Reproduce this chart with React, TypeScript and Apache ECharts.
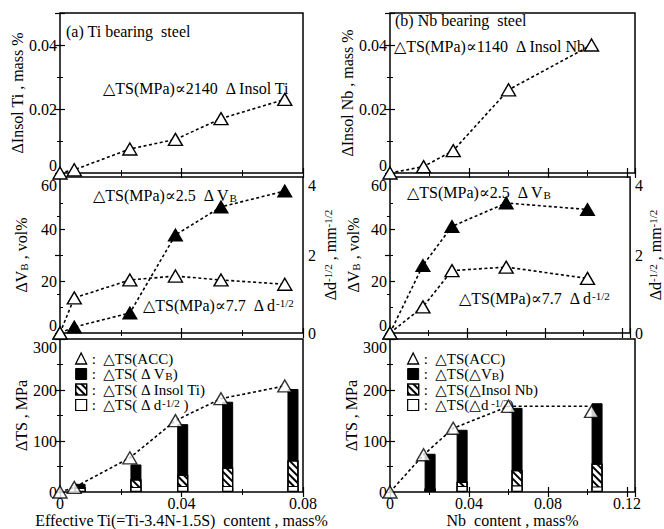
import React, { useEffect, useRef } from 'react';
import * as echarts from 'echarts';

const FONT = '"Liberation Serif", "DejaVu Serif", serif';
const BLACK = '#000';

// ---- (a) Ti bearing steel ----
const TI_X = [0, 0.0047, 0.023, 0.038, 0.053, 0.074];
const TI_INSOL = [0, 0.001, 0.0075, 0.0105, 0.017, 0.023];
const TI_VB = [0, 2.3, 7.7, 37.7, 48.5, 54.6];
const TI_D = [0, 0.9, 1.36, 1.46, 1.36, 1.25];
const TI_ACC = [0, 9, 67, 140, 183, 208];
const TI_ACC_LINE_X = [0, 0.0047, 0.023, 0.038, 0.053, 0.074];
const TI_ACC_LINE = [0, 9, 67, 140, 183, 208];
const TI_BAR_X = [0.0066, 0.025, 0.0404, 0.0552, 0.0767];
const TI_BAR_D = [8, 10, 12, 12, 12];
const TI_BAR_INSOL = [2, 15, 22, 36, 50];
const TI_BAR_VB = [6, 29, 99, 129, 140];

// ---- (b) Nb bearing steel ----
const NB_X = [0, 0.017, 0.032, 0.06, 0.102];
const NB_INSOL = [0, 0.002, 0.007, 0.026, 0.04];
const NB_VB = [0, 26, 41, 50, 47.5];
const NB_D = [0, 0.67, 1.6, 1.69, 1.4];
const NB_ACC = [0, 73, 125, 168, 158];
const NB_ACC_LINE_X = [0, 0.017, 0.032, 0.06, 0.1];
const NB_ACC_LINE = [0, 73, 125, 168, 168];
const NB_BAR_X = [0.0203, 0.0365, 0.0643, 0.1048];
const NB_BAR_D = [5, 12, 13, 11];
const NB_BAR_INSOL = [2, 8, 30, 45];
const NB_BAR_VB = [68, 102, 122, 118];

// axis ranges [min, max, interval]
const TI_X_RANGE = [0, 0.08, 0.04];
const NB_X_RANGE = [0, 0.124, 0.04];
const INSOL_RANGE = [0, 0.05, 0.02];
const VB_RANGE = [0, 60, 20];
const D_RANGE = [0, 4, 2];
const TS_RANGE = [0, 300, 100];

const pts = (xs: number[], ys: number[]) => xs.map((x, i) => [x, ys[i]]);
const add = (...arrs: number[][]) => arrs[0].map((_, i) => arrs.reduce((s, a) => s + a[i], 0));

const RICH = {
  b: { fontSize: 11, verticalAlign: 'bottom', fontFamily: FONT, color: BLACK },
  s: { fontSize: 11, verticalAlign: 'top', fontFamily: FONT, color: BLACK },
};

const COLS = [
  { left: 60, width: 243 },
  { left: 390, width: 245 },
];
const ROWS = [
  { top: 13, height: 160 },
  { top: 177, height: 156 },
  { top: 339, height: 156 },
];

const tick = { show: true, inside: true, length: 5, lineStyle: { color: BLACK, width: 1.2 } };
const minor = { show: true, splitNumber: 2, length: 3, lineStyle: { color: BLACK, width: 1 } };
const nameStyle = { fontFamily: FONT, fontSize: 16, color: BLACK, rich: RICH };

function isMult(range: number[]) {
  const r = range[1] / range[2];
  return Math.abs(r - Math.round(r)) < 1e-6;
}

function xAx(grid: number, range: number[], labels: boolean, position: string, name?: string) {
  return {
    type: 'value',
    gridIndex: grid,
    position,
    min: range[0],
    max: range[1],
    interval: range[2],
    axisLine: { show: false },
    axisTick: tick,
    minorTick: minor,
    splitLine: { show: false },
    axisLabel: {
      show: labels,
      fontFamily: FONT,
      fontSize: 16,
      color: BLACK,
      margin: 3,
      showMaxLabel: isMult(range),
    },
    name: name || '',
    nameLocation: 'middle',
    nameGap: 20,
    nameTextStyle: nameStyle,
  };
}

function yAx(
  grid: number,
  range: number[],
  labels: boolean,
  position: string,
  name?: string,
  nameGap = 31,
  vMin = 'middle',
  vMax = 'middle'
) {
  return {
    type: 'value',
    gridIndex: grid,
    position,
    min: range[0],
    max: range[1],
    interval: range[2],
    axisLine: { show: false },
    axisTick: tick,
    minorTick: minor,
    splitLine: { show: false },
    axisLabel: {
      show: labels,
      fontFamily: FONT,
      fontSize: 16,
      color: BLACK,
      margin: position === 'left' ? 3 : 5,
      showMaxLabel: isMult(range),
      verticalAlignMinLabel: vMin,
      verticalAlignMaxLabel: vMax,
    },
    name: name || '',
    nameLocation: 'middle',
    nameRotate: 90,
    nameGap,
    nameTextStyle: nameStyle,
  };
}

const dotted = { color: BLACK, width: 1.6, type: [3, 2.5] };
const openTri = { color: '#fff', borderColor: BLACK, borderWidth: 1.4 };
const fillTri = { color: BLACK, borderColor: BLACK, borderWidth: 1.2 };
const hatch = {
  symbol: 'rect',
  symbolSize: 1,
  color: BLACK,
  backgroundColor: '#fff',
  dashArrayX: [1, 0],
  dashArrayY: [1.5, 2.5],
  rotation: Math.PI / 4,
};

function lineSeries(name: string, xi: number, yi: number, data: number[][], open: boolean, z = 3) {
  return {
    type: 'line',
    name,
    xAxisIndex: xi,
    yAxisIndex: yi,
    data,
    symbol: 'triangle',
    symbolSize: [14, 12],
    showAllSymbol: true,
    itemStyle: open ? openTri : fillTri,
    lineStyle: dotted,
    z,
  };
}

// bars overlap at the same x; each drawn from 0 to its cumulative top, inner parts drawn above
function barSeries(name: string, xi: number, yi: number, data: number[][], kind: string, z: number) {
  const base: any = {
    type: 'bar',
    name,
    xAxisIndex: xi,
    yAxisIndex: yi,
    data,
    barWidth: 11,
    barGap: '-100%',
    z,
  };
  if (kind === 'vb') base.itemStyle = { color: BLACK, borderColor: BLACK, borderWidth: 1 };
  if (kind === 'd') base.itemStyle = { color: '#fff', borderColor: BLACK, borderWidth: 1.2 };
  if (kind === 'insol') base.itemStyle = { color: '#fff', borderColor: BLACK, borderWidth: 1.2, decal: hatch };
  return base;
}

function buildOption() {
  const grids: any[] = [];
  COLS.forEach((c) =>
    ROWS.forEach((r) =>
      grids.push({
        left: c.left,
        width: c.width,
        top: r.top,
        height: r.height,
        show: true,
        borderColor: BLACK,
        borderWidth: 1.5,
        backgroundColor: 'transparent',
      })
    )
  );

  const xAxes: any[] = [];
  const yAxes: any[] = [];
  const xNames = ['Effective Ti(=Ti-3.4N-1.5S)  content , mass%', 'Nb  content , mass%'];
  [TI_X_RANGE, NB_X_RANGE].forEach((xr, ci) => {
    for (let ri = 0; ri < 3; ri++) {
      const g = ci * 3 + ri;
      xAxes.push(xAx(g, xr, ri === 2, 'bottom', ri === 2 ? xNames[ci] : ''));
      xAxes.push(xAx(g, xr, false, 'top'));
    }
  });
  const insolNames = ['ΔInsol Ti , mass %', 'ΔInsol Nb , mass %'];
  [0, 1].forEach((ci) => {
    const g0 = ci * 3;
    const lg = ci === 0 ? 31 : 29;
    yAxes.push(yAx(g0, INSOL_RANGE, true, 'left', insolNames[ci], lg, 'bottom', 'middle'));
    yAxes.push(yAx(g0, INSOL_RANGE, false, 'right'));
    yAxes.push(yAx(g0 + 1, VB_RANGE, true, 'left', 'ΔV{b|B} , vol%', lg, 'bottom', 'top'));
    yAxes.push(
      yAx(g0 + 1, D_RANGE, true, 'right', 'Δd{s|-1/2} , mm{s|-1/2}', ci === 0 ? 19 : 16, 'middle', 'top')
    );
    yAxes.push(yAx(g0 + 2, TS_RANGE, true, 'left', 'ΔTS , MPa', lg, 'middle', 'top'));
    yAxes.push(yAx(g0 + 2, TS_RANGE, false, 'right'));
  });

  const series: any[] = [
    // Ti
    lineSeries('ti_insol_pts', 0, 0, pts(TI_X, TI_INSOL), true),
    lineSeries('ti_vb_pts', 2, 2, pts(TI_X, TI_VB), false, 3),
    lineSeries('ti_d_pts', 2, 3, pts(TI_X, TI_D), true, 4),
    barSeries('ti_vb', 4, 4, pts(TI_BAR_X, add(TI_BAR_D, TI_BAR_INSOL, TI_BAR_VB)), 'vb', 1),
    barSeries('ti_insol', 4, 4, pts(TI_BAR_X, add(TI_BAR_D, TI_BAR_INSOL)), 'insol', 2),
    barSeries('ti_d', 4, 4, pts(TI_BAR_X, TI_BAR_D), 'd', 3),
    {
      type: 'line',
      name: 'ti_acc_line',
      xAxisIndex: 4,
      yAxisIndex: 4,
      data: pts(TI_ACC_LINE_X, TI_ACC_LINE),
      showSymbol: false,
      lineStyle: dotted,
      z: 4,
    },
    {
      type: 'scatter',
      name: 'ti_acc',
      xAxisIndex: 4,
      yAxisIndex: 4,
      data: pts(TI_X, TI_ACC),
      symbol: 'triangle',
      symbolSize: [14, 12],
      itemStyle: openTri,
      z: 5,
    },
    // Nb
    lineSeries('nb_insol_pts', 6, 6, pts(NB_X, NB_INSOL), true),
    lineSeries('nb_vb_pts', 8, 8, pts(NB_X, NB_VB), false, 3),
    lineSeries('nb_d_pts', 8, 9, pts(NB_X, NB_D), true, 4),
    barSeries('nb_vb', 10, 10, pts(NB_BAR_X, add(NB_BAR_D, NB_BAR_INSOL, NB_BAR_VB)), 'vb', 1),
    barSeries('nb_insol', 10, 10, pts(NB_BAR_X, add(NB_BAR_D, NB_BAR_INSOL)), 'insol', 2),
    barSeries('nb_d', 10, 10, pts(NB_BAR_X, NB_BAR_D), 'd', 3),
    {
      type: 'line',
      name: 'nb_acc_line',
      xAxisIndex: 10,
      yAxisIndex: 10,
      data: pts(NB_ACC_LINE_X, NB_ACC_LINE),
      showSymbol: false,
      lineStyle: dotted,
      z: 4,
    },
    {
      type: 'scatter',
      name: 'nb_acc',
      xAxisIndex: 10,
      yAxisIndex: 10,
      data: pts(NB_X, NB_ACC),
      symbol: 'triangle',
      symbolSize: [14, 12],
      itemStyle: openTri,
      z: 5,
    },
  ];

  const LEG_TEXT: Record<string, string> = {
    ti_acc: ':  △TS(ACC)',
    ti_vb: ':  △TS( Δ V{b|B})',
    ti_insol: ':  △TS( Δ Insol Ti)',
    ti_d: ':  △TS( Δ d{s|-1/2} )',
    nb_acc: ':  △TS(ACC)',
    nb_vb: ':  △TS(△V{b|B})',
    nb_insol: ':  △TS(△Insol Nb)',
    nb_d: ':  △TS(△d{s| -1/2})',
  };
  const legend = (prefix: string, left: number) => ({
    orient: 'vertical',
    left,
    top: 346,
    itemWidth: 11,
    itemHeight: 11,
    itemGap: 0.5,
    selectedMode: false,
    data: [
      {
        name: prefix + '_acc',
        icon: 'triangle',
        itemStyle: { color: '#fff', borderColor: BLACK, borderWidth: 1.3, opacity: 1 },
      },
      { name: prefix + '_vb', icon: 'rect', itemStyle: { color: BLACK, borderColor: BLACK, borderWidth: 1 } },
      {
        name: prefix + '_insol',
        icon: 'rect',
        itemStyle: { color: '#fff', borderColor: BLACK, borderWidth: 1.2, decal: hatch },
      },
      { name: prefix + '_d', icon: 'rect', itemStyle: { color: '#fff', borderColor: BLACK, borderWidth: 1.2 } },
    ],
    formatter: (n: string) => LEG_TEXT[n],
    textStyle: { fontFamily: FONT, fontSize: 15, lineHeight: 15, color: BLACK, rich: RICH },
  });

  const txt = (x: number, y: number, text: string, size = 16) => ({
    type: 'text',
    x,
    y,
    z: 10,
    style: {
      text,
      fontFamily: FONT,
      fontSize: size,
      fill: BLACK,
      align: 'left',
      verticalAlign: 'middle',
      rich: RICH,
    },
  });

  return {
    animation: false,
    backgroundColor: '#fff',
    grid: grids,
    xAxis: xAxes,
    yAxis: yAxes,
    series,
    legend: [legend('ti', 70), legend('nb', 402)],
    graphic: [
      txt(66, 31, '(a) Ti bearing  steel'),
      txt(103, 88, '△TS(MPa)∝2140  Δ Insol Ti'),
      txt(395, 20, '(b) Nb bearing  steel'),
      txt(394, 46, '△TS(MPa)∝1140  Δ Insol Nb'),
      txt(93, 195, '△TS(MPa)∝2.5  Δ V{b|B}'),
      txt(143, 305, '△TS(MPa)∝7.7  Δ d{s|-1/2}'),
      txt(407, 192, '△TS(MPa)∝2.5  Δ V{b|B}'),
      txt(459, 298, '△TS(MPa)∝7.7  Δ d{s|-1/2}'),
    ],
  };
}

export default function App() {
  const ref = useRef<HTMLDivElement>(null);
  useEffect(() => {
    if (!ref.current) return;
    const chart = echarts.init(ref.current, undefined, { renderer: 'svg' });
    chart.setOption(buildOption() as any);
    return () => chart.dispose();
  }, []);
  return (
    <div
      ref={ref}
      style={{ position: 'fixed', left: 0, top: 0, width: 664, height: 529, background: '#fff' }}
    />
  );
}
